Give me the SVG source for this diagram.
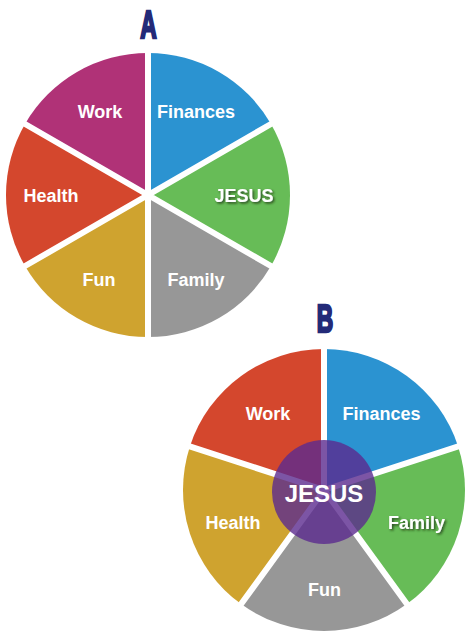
<svg xmlns="http://www.w3.org/2000/svg" width="466" height="632" viewBox="0 0 466 632">
<defs>
<style>
.lbl{font-family:"Liberation Sans",Arial,sans-serif;font-weight:bold;font-size:18px;fill:#ffffff;text-anchor:middle}
.big{font-size:24px}
.gap{stroke:#ffffff;stroke-width:6;stroke-linecap:butt;fill:none}
.letter{font-family:"Liberation Sans",Arial,sans-serif;font-weight:bold;font-size:38px;fill:#232a78;stroke:#232a78;stroke-width:2.5;stroke-linejoin:miter;text-anchor:middle}
.magenta{fill:#b03277}.blue{fill:#2b93d1}.green{fill:#67bc57}.gray{fill:#979797}.yellow{fill:#cfa32f}.red{fill:#d4472d}
</style>
<filter id="sh" x="-20%" y="-30%" width="140%" height="160%">
<feDropShadow dx="1.5" dy="1.5" stdDeviation="1.2" flood-color="#1a2a10" flood-opacity="0.8"/>
</filter>
</defs>
<rect width="466" height="632" fill="#ffffff"/>

<text class="letter" transform="translate(148.5,38) scale(0.6,1)">A</text>
<text class="letter" transform="translate(325,332) scale(0.6,1)">B</text>

<!-- Pie A -->
<g id="pieA">
<g id="a-finances"><path class="blue" d="M148,195 L148,53 A142,142 0 0 1 270.98,124 Z"/><text class="lbl" x="196" y="118">Finances</text></g>
<g id="a-jesus"><path class="green" d="M148,195 L270.98,124 A142,142 0 0 1 270.98,266 Z"/><text class="lbl" x="244" y="202" filter="url(#sh)">JESUS</text></g>
<g id="a-family"><path class="gray" d="M148,195 L270.98,266 A142,142 0 0 1 148,337 Z"/><text class="lbl" x="196" y="286">Family</text></g>
<g id="a-fun"><path class="yellow" d="M148,195 L148,337 A142,142 0 0 1 25.02,266 Z"/><text class="lbl" x="99" y="286">Fun</text></g>
<g id="a-health"><path class="red" d="M148,195 L25.02,266 A142,142 0 0 1 25.02,124 Z"/><text class="lbl" x="51" y="202">Health</text></g>
<g id="a-work"><path class="magenta" d="M148,195 L25.02,124 A142,142 0 0 1 148,53 Z"/><text class="lbl" x="100" y="118">Work</text></g>
</g>

<!-- Pie B -->
<g id="pieB">
<g id="b-finances"><path class="blue" d="M324,490 L324,349 A141,141 0 0 1 458.10,446.43 Z"/></g>
<g id="b-family"><path class="green" d="M324,490 L458.10,446.43 A141,141 0 0 1 406.88,604.07 Z"/></g>
<g id="b-fun"><path class="gray" d="M324,490 L406.88,604.07 A141,141 0 0 1 241.12,604.07 Z"/></g>
<g id="b-health"><path class="yellow" d="M324,490 L241.12,604.07 A141,141 0 0 1 189.90,446.43 Z"/></g>
<g id="b-work"><path class="red" d="M324,490 L189.90,446.43 A141,141 0 0 1 324,349 Z"/></g>
</g>

<g id="connectors">
<path class="gap" d="M148,195 L148,48 M148,195 L275.3,121.5 M148,195 L275.3,268.5 M148,195 L148,342 M148,195 L20.7,268.5 M148,195 L20.7,121.5"/>
<path class="gap" d="M324,490 L324,344 M324,490 L462.9,444.9 M324,490 L409.8,608.1 M324,490 L238.2,608.1 M324,490 L185.1,444.9"/>
</g>

<g id="b-jesus">
<circle cx="324" cy="492" r="52" fill="#5b2a8f" fill-opacity="0.8"/>
<text class="lbl big" x="324" y="502">JESUS</text>
</g>

<g id="b-labels">
<text class="lbl" x="268" y="420">Work</text>
<text class="lbl" x="381.5" y="420">Finances</text>
<text class="lbl" x="233" y="529">Health</text>
<text class="lbl" x="416.5" y="529" filter="url(#sh)">Family</text>
<text class="lbl" x="324.5" y="596">Fun</text>
</g>
</svg>
